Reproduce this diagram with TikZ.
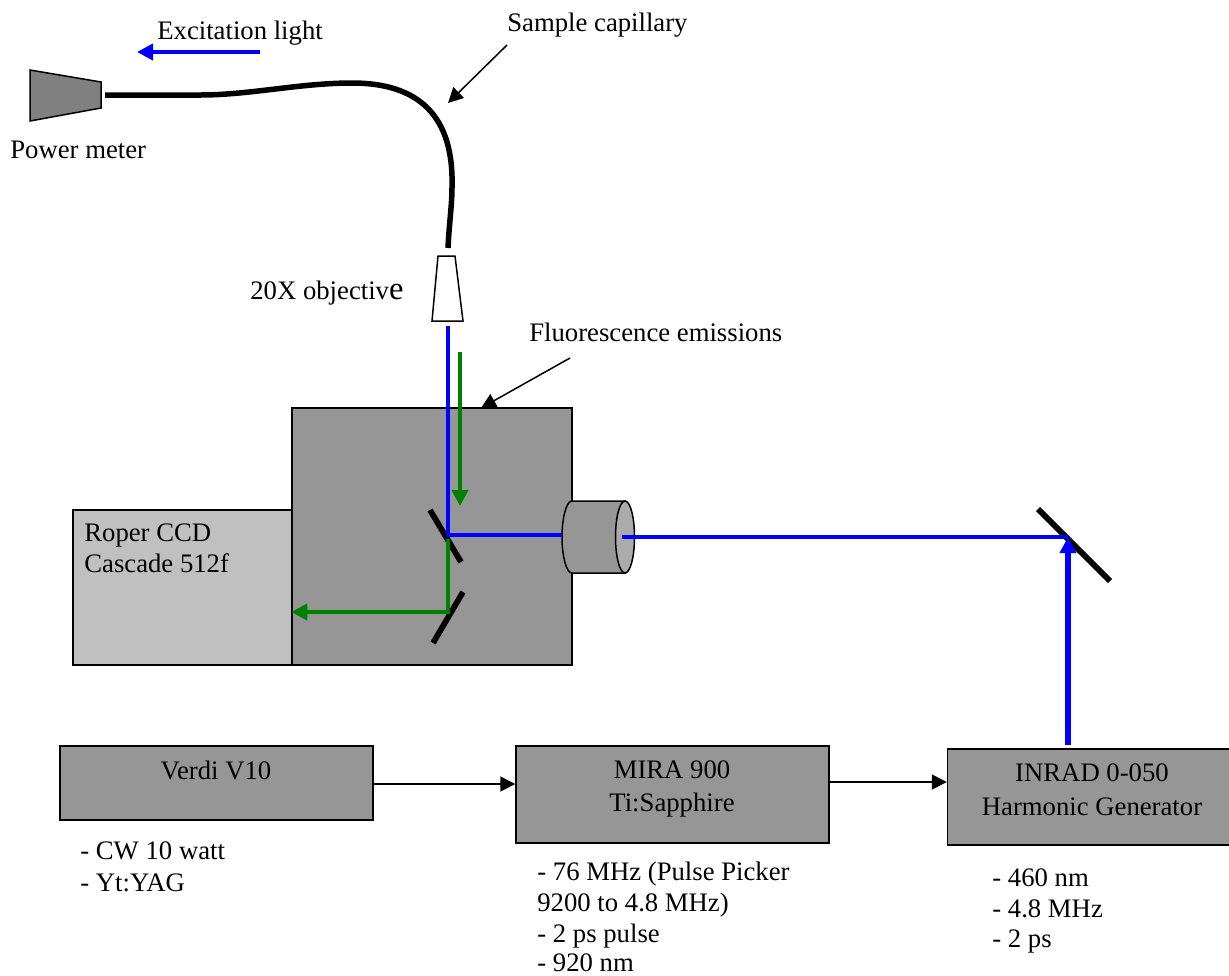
\documentclass[tikz,border=0pt]{standalone}
\usepackage{fontspec}
\setmainfont{Liberation Serif}
\usepackage{xcolor}
\usetikzlibrary{arrows.meta,positioning}
\definecolor{boxgray}{HTML}{969696}
\definecolor{ccdgray}{HTML}{C0C0C0}
\definecolor{metergray}{HTML}{808080}
\definecolor{lensgray}{HTML}{ABABAB}
\definecolor{beamblue}{HTML}{0000FF}
\definecolor{beamgreen}{HTML}{008000}

\begin{document}
\begin{tikzpicture}[
    x=0.02cm, y=-0.02cm,
    every node/.style={font=\fontsize{15.2}{17.6}\selectfont},
    txt/.style={inner sep=0pt, align=left},
    mid/.style={inner sep=0pt, align=center},
    box/.style={rectangle, draw, line width=0.03cm, fill=boxgray, inner sep=0pt},
    part/.style={draw, line width=0.03cm},
    mirror/.style={line width=0.115cm},
    arrow/.style={-{Triangle[length=0.3cm,width=0.3cm]}, line width=0.03cm},
    blue beam/.style={draw=beamblue, line width=0.095cm},
    green beam/.style={draw=beamgreen, line width=0.09cm},
    beam tip/.style={-{Triangle[length=0.32cm,width=0.32cm]}}
]
\useasboundingbox (0,0) rectangle (1229,975);

% Boxes
\node[box, fill=ccdgray, minimum width=4.38cm, minimum height=3.1cm] (ccd) at (182.5,587.5) {};
\node[box, minimum width=5.6cm, minimum height=5.14cm] (main) at (432,536.5) {};
\node[box, minimum width=6.26cm, minimum height=1.48cm] (verdi) at (216.5,783) {};
\node[box, minimum width=6.26cm, minimum height=1.94cm] (mira) at (672.5,794.5) {};
\node[box, minimum width=5.7cm, minimum height=1.92cm] (inrad) at (1090,797) {};

% Box labels
\node[txt, anchor=west] (ccdtxt) at (84,548) {Roper CCD\\Cascade 512f};
\node[mid] (verditxt) at (216,770) {Verdi V10};
\node[mid] (miratxt) at (672,789) {MIRA 900\\[1pt]Ti:Sapphire};
\node[mid] (inradtxt) at (1092,790) {INRAD 0-050\\[1.5pt]Harmonic Generator};

% Lists under the boxes
\node[txt, anchor=north west] (verdilist) at (80,841) {- CW 10 watt\\[1pt]- Yt:YAG};
\node[txt, anchor=north west] (miralist) at (537,862) {- 76 MHz (Pulse Picker\\9200 to 4.8 MHz)\\- 2 ps pulse\\[-1.5pt]- 920 nm};
\node[txt, anchor=north west] (inradlist) at (992,868) {- 460 nm\\- 4.8 MHz\\- 2 ps};

% Power meter and objective
\draw[part, fill=metergray] (30,70) -- (101,82) -- (101,108) -- (30,121) -- cycle;
\draw[part, fill=white] (438,256) -- (455,256) -- (463,321) -- (432,321) -- cycle;
\coordinate (fibera) at (105,95);
\coordinate (fiberb) at (448,248);
\coordinate (objout) at (448,326);

% Lens
\draw[part, fill=boxgray] (572,501) -- (625,501) -- (625,573) -- (572,573)
    .. controls (566,573) and (562,555) .. (562,537) .. controls (562,519) and (566,501) .. (572,501) -- cycle;
\draw[part, fill=lensgray] (625,537) ellipse (9.5 and 36);

% Mirrors
\coordinate (mirrorat) at (430,510);
\coordinate (mirrorab) at (461,562);
\coordinate (mirrorbt) at (463,592);
\coordinate (mirrorbb) at (433,643);
\coordinate (mirrorct) at (1038,509);
\coordinate (mirrorcb) at (1110,581);
\draw[mirror] (mirrorat) -- (mirrorab);
\draw[mirror] (mirrorbt) -- (mirrorbb);
\draw[mirror] (mirrorct) -- (mirrorcb);

% Fiber
\draw[line width=0.11cm] (fibera) -- (200,95) .. controls (250,95) and (300,83) .. (352,83)
    .. controls (418,83) and (454,115) .. (452,187) .. controls (452,205) and (449,225) .. (fiberb);

% Blue beams
\coordinate (foldb) at (448,535);
\coordinate (lensin) at (562,535);
\coordinate (lensout) at (622,537);
\coordinate (foldc) at (1068,537);
\coordinate (genout) at (1068,745);
\draw[blue beam] (objout) -- (foldb) -- (lensin);
\draw[blue beam] (lensout) -- (foldc);
\draw[blue beam, beam tip, line width=0.115cm] (genout) -- (foldc);
\coordinate (exca) at (260,52);
\coordinate (excb) at (137,52);
\draw[blue beam, beam tip] (exca) -- (excb);

% Green beams
\coordinate (greena) at (460,352);
\coordinate (greenb) at (460,506);
\coordinate (greenc) at (448,539);
\coordinate (greend) at (448,612);
\draw[green beam, beam tip] (greena) -- (greenb);
\draw[green beam, beam tip] (greenc) -- (greend) -- (main.west |- greend);

% Laser chain
\draw[arrow] (verdi.east |- 0,784) -- (mira.west |- 0,784);
\draw[arrow] (mira.east |- 0,782) -- (inrad.west |- 0,782);

% Labels
\node[txt, anchor=west] (exctxt) at (157,33) {Excitation light};
\node[txt, anchor=west] (capiltxt) at (507,25) {Sample capillary};
\node[txt, anchor=west] (metertxt) at (10,150) {Power meter};
\node[txt, anchor=west] (objtxt) at (250,293) {20X objectiv{\fontsize{18.5}{18.5}\selectfont e}};
\node[txt, anchor=west] (fluotxt) at (529,332) {Fluorescence emissions};

% Pointers
\coordinate (capila) at (507,45);
\coordinate (capilb) at (448,103);
\coordinate (fluoa) at (570,358);
\coordinate (fluob) at (481,408);
\draw[arrow] (capila) -- (capilb);
\draw[arrow] (fluoa) -- (fluob);

\end{tikzpicture}
\end{document}
